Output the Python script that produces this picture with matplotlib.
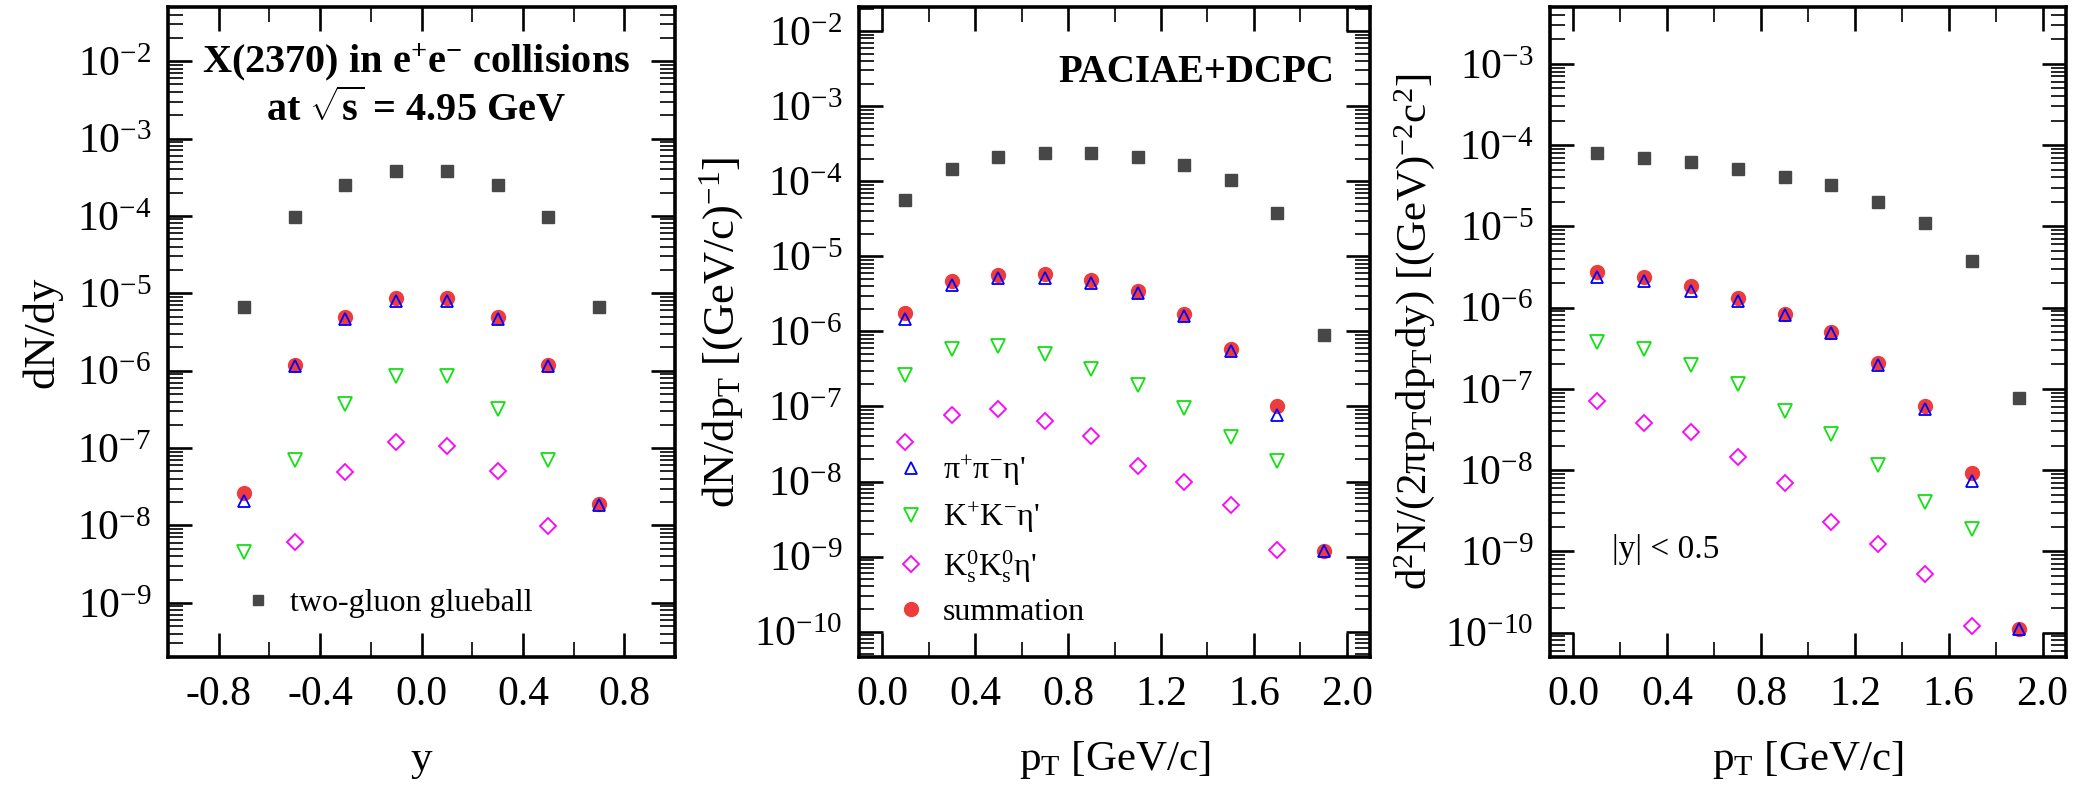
import numpy as np
import matplotlib
matplotlib.use("Agg")
import matplotlib.pyplot as plt
from matplotlib.ticker import (LogLocator, FixedLocator, FuncFormatter,
                               NullFormatter, FormatStrFormatter)
from matplotlib.lines import Line2D

plt.rcParams['font.family'] = ['Liberation Serif', 'DejaVu Serif']
plt.rcParams['mathtext.fontset'] = 'custom'
plt.rcParams['mathtext.rm'] = 'Liberation Serif'
plt.rcParams['mathtext.it'] = 'Liberation Serif:italic'
plt.rcParams['mathtext.bf'] = 'Liberation Serif:bold'
plt.rcParams['mathtext.default'] = 'regular'
plt.rcParams['axes.unicode_minus'] = False

nan = np.nan

# ---------------- data ----------------
rapidity = [-0.7, -0.5, -0.3, -0.1, 0.1, 0.3, 0.5, 0.7]
dndy_glueball = [6.6e-6, 9.8e-5, 2.5e-4, 3.8e-4, 3.8e-4, 2.5e-4, 9.8e-5, 6.6e-6]
dndy_pipi     = [2.1e-8, 1.14e-6, 4.7e-6, 8.0e-6, 8.0e-6, 4.7e-6, 1.14e-6, 1.85e-8]
dndy_kk       = [4.6e-9, 7.0e-8, 3.7e-7, 8.6e-7, 8.6e-7, 3.2e-7, 7.0e-8, nan]
dndy_k0k0     = [nan, 6.1e-9, 4.9e-8, 1.2e-7, 1.08e-7, 5.0e-8, 9.8e-9, nan]
dndy_sum      = [2.65e-8, 1.2e-6, 5.0e-6, 8.6e-6, 8.6e-6, 5.0e-6, 1.2e-6, 1.9e-8]

pt = [0.1, 0.3, 0.5, 0.7, 0.9, 1.1, 1.3, 1.5, 1.7, 1.9]
dndpt_glueball = [5.6e-5, 1.47e-4, 2.1e-4, 2.4e-4, 2.4e-4, 2.1e-4, 1.67e-4, 1.03e-4, 3.8e-5, 8.9e-7]
dndpt_pipi     = [1.46e-6, 4.1e-6, 5.1e-6, 5.2e-6, 4.4e-6, 3.3e-6, 1.62e-6, 5.5e-7, 7.6e-8, 1.2e-9]
dndpt_kk       = [2.6e-7, 5.9e-7, 6.3e-7, 5.0e-7, 3.2e-7, 1.96e-7, 9.5e-8, 3.9e-8, 1.9e-8, nan]
dndpt_k0k0     = [3.4e-8, 7.6e-8, 9.2e-8, 6.5e-8, 4.0e-8, 1.6e-8, 1.0e-8, 4.9e-9, 1.22e-9, nan]
dndpt_sum      = [1.78e-6, 4.7e-6, 5.7e-6, 5.8e-6, 4.8e-6, 3.5e-6, 1.72e-6, 5.8e-7, 1.0e-7, 1.2e-9]

inv_glueball = [8.0e-5, 7.0e-5, 6.2e-5, 5.1e-5, 4.1e-5, 3.2e-5, 2.0e-5, 1.1e-5, 3.7e-6, 7.6e-8]
inv_pipi     = [2.4e-6, 2.1e-6, 1.6e-6, 1.2e-6, 8.0e-7, 4.8e-7, 1.96e-7, 5.6e-8, 7.3e-9, 1.1e-10]
inv_kk       = [3.75e-7, 3.1e-7, 1.97e-7, 1.14e-7, 5.3e-8, 2.75e-8, 1.15e-8, 4.1e-9, 1.9e-9, nan]
inv_k0k0     = [7.0e-8, 3.8e-8, 2.9e-8, 1.45e-8, 7.0e-9, 2.3e-9, 1.23e-9, 5.3e-10, 1.2e-10, nan]
inv_sum      = [2.77e-6, 2.4e-6, 1.84e-6, 1.32e-6, 8.4e-7, 5.0e-7, 2.06e-7, 6.2e-8, 9.3e-9, 1.1e-10]

rapidity_ticks = [-0.8, -0.4, 0.0, 0.4, 0.8]
rapidity_minor = [-1.0, -0.6, -0.2, 0.2, 0.6, 1.0]
pt_ticks = [0.0, 0.4, 0.8, 1.2, 1.6, 2.0]
pt_minor = [0.2, 0.6, 1.0, 1.4, 1.8]

label_glueball = 'two-gluon glueball'
label_pipi = "π$^{+}$π$^{-}$η'"
label_kk = "K$^{+}$K$^{-}$η'"
label_k0k0 = "K$_{s}^{0}$K$_{s}^{0}$η'"
label_sum = 'summation'

# ---------------- style ----------------
C_GLUE = '#474747'
C_SUM = '#ee3c3c'
C_PIPI = '#0000ff'
C_KK = '#11e011'
C_K0 = '#ff00ff'

fig = plt.figure(figsize=(20.8, 7.98), dpi=100)
H = 650 / 798
B = 1 - 657 / 798
ax1 = fig.add_axes([168 / 2080, B, 507 / 2080, H])
ax2 = fig.add_axes([859 / 2080, B, 511 / 2080, H])
ax3 = fig.add_axes([1550 / 2080, B, 516 / 2080, H])


def draw(ax, x, glue, pipi, kk, k0, summ):
    ax.plot(x, glue, ls='none', marker='s', ms=9, color=C_GLUE, mec=C_GLUE, zorder=3)
    ax.plot(x, summ, ls='none', marker='o', ms=10, color=C_SUM, mec=C_SUM, zorder=3)
    ax.plot(x, pipi, ls='none', marker='^', ms=9, mfc='none', mec=C_PIPI, mew=1.3, zorder=4)
    ax.plot(x, kk, ls='none', marker='v', ms=9.5, mfc='none', mec=C_KK, mew=1.3, zorder=4)
    ax.plot(x, k0, ls='none', marker='D', ms=8.5, mfc='none', mec=C_K0, mew=1.3, zorder=4)


def style(ax, ylim, xlim, xmaj, xmin):
    ax.set_yscale('log')
    ax.set_ylim(*ylim)
    ax.set_xlim(*xlim)
    ax.yaxis.set_major_locator(LogLocator(base=10, numticks=30))
    ax.yaxis.set_minor_locator(LogLocator(base=10, subs=np.arange(2, 10), numticks=30))
    ax.yaxis.set_minor_formatter(NullFormatter())
    ax.yaxis.set_major_formatter(FuncFormatter(
        lambda v, p: r'10$^{%d}$' % int(round(np.log10(v)))))
    ax.xaxis.set_major_locator(FixedLocator(xmaj))
    ax.xaxis.set_minor_locator(FixedLocator(xmin))
    ax.xaxis.set_major_formatter(FormatStrFormatter('%.1f'))
    ax.tick_params(which='both', direction='in', top=True, right=True)
    ax.tick_params(which='major', length=17.5, width=1.9, labelsize=30)
    ax.tick_params(which='minor', length=11, width=1.2)
    ax.tick_params(axis='x', which='major', pad=13)
    ax.tick_params(axis='y', which='major', pad=12)
    for s in ax.spines.values():
        s.set_linewidth(2.6)


draw(ax1, rapidity, dndy_glueball, dndy_pipi, dndy_kk, dndy_k0k0, dndy_sum)
draw(ax2, pt, dndpt_glueball, dndpt_pipi, dndpt_kk, dndpt_k0k0, dndpt_sum)
draw(ax3, pt, inv_glueball, inv_pipi, inv_kk, inv_k0k0, inv_sum)

style(ax1, (2e-10, 5e-2), (-1.0, 1.0), rapidity_ticks, rapidity_minor)
style(ax2, (4.6e-11, 2.1e-2), (-0.1, 2.1), pt_ticks, pt_minor)
style(ax3, (5e-11, 5e-3), (-0.1, 2.1), pt_ticks, pt_minor)

# axis labels
ylabels = [(ax1, 'dN/dy', -0.2485, 32),
           (ax2, 'dN/dp$_{T}$ [(GeV/c)$^{-1}$]', -0.268, 32),
           (ax3, 'd$^{2}$N/(2πp$_{T}$dp$_{T}$dy) [(GeV)$^{-2}$c$^{2}$]', -0.262, 31)]
for ax, txt, xc, fs in ylabels:
    ax.set_ylabel(txt, fontsize=fs)
    ax.yaxis.label.set_verticalalignment('center')
    ax.yaxis.set_label_coords(xc, 0.5)

xlabels = [(ax1, 'y'), (ax2, 'p$_{T}$ [GeV/c]'), (ax3, 'p$_{T}$ [GeV/c]')]
for ax, txt in xlabels:
    ax.set_xlabel(txt, fontsize=31)
    ax.xaxis.label.set_verticalalignment('center')
    ax.xaxis.set_label_coords(0.5, -0.158)

# annotations
ax1.text(0.49, 0.915, 'X(2370) in e$^{+}$e$^{-}$ collisions', transform=ax1.transAxes,
         ha='center', va='center', fontsize=29, fontweight='bold')
ax1.text(0.49, 0.842, r'at $\sqrt{s}$ = 4.95 GeV', transform=ax1.transAxes,
         ha='center', va='center', fontsize=29, fontweight='bold')
ax2.text(0.93, 0.90, 'PACIAE+DCPC', transform=ax2.transAxes,
         ha='right', va='center', fontsize=28, fontweight='bold')
ax3.text(0.12, 0.165, '|y| < 0.5', transform=ax3.transAxes,
         ha='left', va='center', fontsize=24)

# legends
h_glue = Line2D([], [], ls='none', marker='s', ms=7, color=C_GLUE)
leg1 = ax1.legend([h_glue], [label_glueball], loc='center left',
                  bbox_to_anchor=(0.146, 0.083), frameon=False, fontsize=23,
                  handlelength=1.0, handletextpad=0.5, borderpad=0, borderaxespad=0)

h_pipi = Line2D([], [], ls='none', marker='^', ms=9, mfc='none', mec=C_PIPI, mew=1.3)
h_kk = Line2D([], [], ls='none', marker='v', ms=9.5, mfc='none', mec=C_KK, mew=1.3)
h_k0 = Line2D([], [], ls='none', marker='D', ms=8.5, mfc='none', mec=C_K0, mew=1.3)
h_sum = Line2D([], [], ls='none', marker='o', ms=10, color=C_SUM)
leg2 = ax2.legend([h_pipi, h_kk, h_k0, h_sum], [label_pipi, label_kk, label_k0k0, label_sum],
                  loc='upper left', bbox_to_anchor=(0.0705, 0.312), frameon=False,
                  fontsize=23, handlelength=1.0, handletextpad=0.5, borderpad=0,
                  borderaxespad=0, labelspacing=0.4)

fig.savefig('out.png', dpi=100)
